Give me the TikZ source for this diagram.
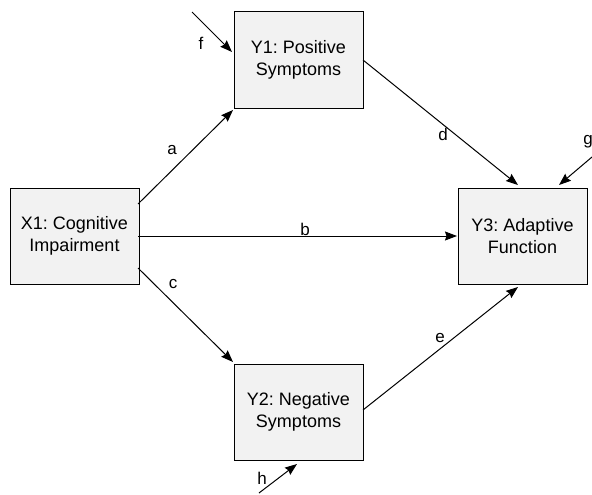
\documentclass[tikz,border=0pt]{standalone}
\usepackage{fontspec}
\setmainfont{Liberation Sans}
\usetikzlibrary{arrows.meta}
\frenchspacing
\begin{document}
\begin{tikzpicture}[x=1pt,y=-1pt,
  box/.style={draw=black, line width=1pt, fill=black!5, minimum width=129pt, minimum height=96pt, inner sep=0pt, align=center, font=\fontsize{18}{22}\selectfont},
  path/.style={draw, line width=1pt, -{Stealth[length=12pt,width=9pt,inset=1.5pt]}},
  lbl/.style={font=\fontsize{17}{20}\selectfont, inner sep=0pt}]
\useasboundingbox (0,0) rectangle (592,495);
\node[box] (X1) at (74.5,236) {X1: Cognitive\\Impairment};
\node[box] (Y1) at (298.5,60) {Y1: Positive\\Symptoms};
\node[box] (Y2) at (298.5,412) {Y2: Negative\\Symptoms};
\node[box] (Y3) at (522.5,236) {Y3: Adaptive\\Function};
\coordinate (Xa) at (138,204);
\coordinate (Xb) at (138,236);
\coordinate (Xc) at (138,268);
\coordinate (Y1in) at (233,110);
\coordinate (Y2in) at (233,362);
\coordinate (Y3b) at (457,236);
\coordinate (Y1out) at (363,60);
\coordinate (Y2out) at (363,410);
\coordinate (Y3d) at (518,185);
\coordinate (Y3e) at (518,287);
\coordinate (fs) at (192,12);
\coordinate (ft) at (232,52);
\coordinate (gs) at (592,157);
\coordinate (gt) at (559,185);
\coordinate (hs) at (259,493);
\coordinate (ht) at (297,464);
\draw[path] (Xa) -- (Y1in);
\draw[path] (Xb) -- (Y3b);
\draw[path] (Xc) -- (Y2in);
\draw[path] (Y1out) -- (Y3d);
\draw[path] (Y2out) -- (Y3e);
\draw[path] (fs) -- (ft);
\draw[path] (gs) -- (gt);
\draw[path] (hs) -- (ht);
\node[lbl] (la) at (172,150) {a};
\node[lbl] (lb) at (305,229) {b};
\node[lbl] (lc) at (173,284) {c};
\node[lbl] (ld) at (443,134) {d};
\node[lbl] (le) at (440,338) {e};
\node[lbl] (lf) at (201,43) {f};
\node[lbl] (lg) at (588,142) {g};
\node[lbl] (lh) at (262,478) {h};
\end{tikzpicture}
\end{document}
